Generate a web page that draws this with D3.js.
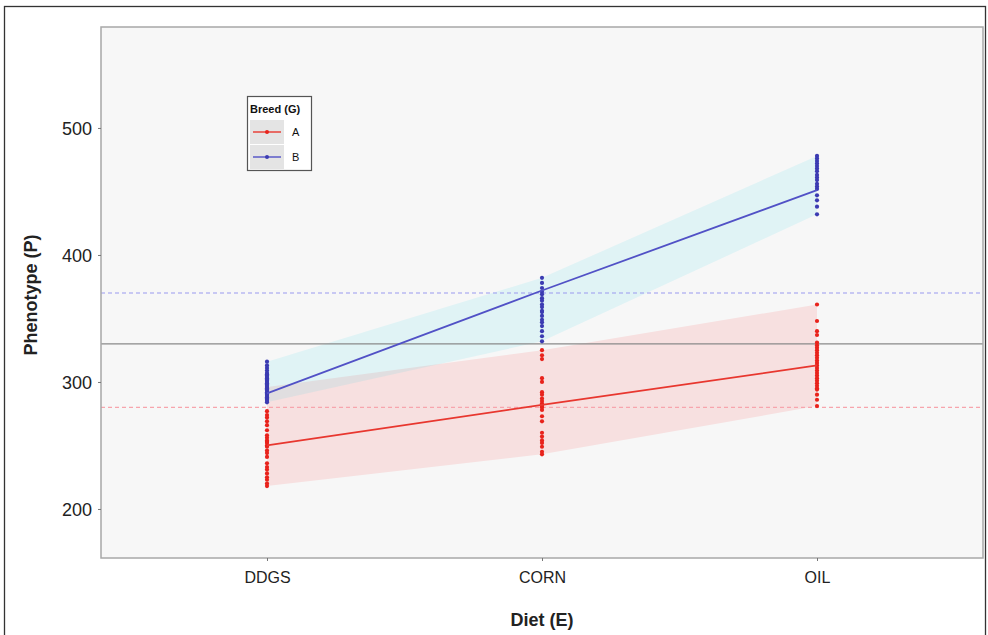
<!DOCTYPE html>
<html>
<head>
<meta charset="utf-8">
<script src="https://cdn.jsdelivr.net/npm/d3@7"></script>
<style>
  body { margin: 0; background: #fff; }
  text { font-family: "Liberation Sans", Arial, sans-serif; }
</style>
</head>
<body>
<div id="wrapper"></div>
<script>
// diet categories and breeds
const diets = ["DDGS", "CORN", "OIL"];
const breeds = ["A", "B"];
const yTicks = [200, 300, 400, 500];

// mean phenotype per diet (lines)
const meanA = [250, 282, 313];
const meanB = [291, 372, 451];

// reference lines: breed means and overall mean
const breedMeanA = 280;
const breedMeanB = 370;
const overallMean = 330;

const pointsA_DDGS = [296, 277, 274, 272, 269, 266, 262, 258, 256, 254, 253, 252, 250, 249, 246, 244, 241, 236, 233, 231, 228, 225, 223, 220, 218];
const pointsA_CORN = [325, 321, 318, 303, 300, 292, 290, 287, 285, 283, 282, 281, 280, 278, 273, 269, 260, 257, 254, 252, 249, 245, 243];
const pointsA_OIL = [361, 348, 340, 337, 331, 329, 327, 325, 323, 321, 319, 317, 315, 313, 311, 309, 307, 305, 303, 301, 299, 297, 295, 294, 290, 286, 281];
const pointsB_DDGS = [316, 313, 311, 309, 307, 306, 305, 304, 303, 302, 301, 300, 299, 298, 297, 296, 295, 294, 293, 292, 291, 290, 289, 288, 287, 286, 285, 284];
const pointsB_CORN = [382, 378, 374, 371, 369, 366, 364, 361, 359, 356, 355, 352, 349, 347, 344, 340, 336, 332];
const pointsB_OIL = [478, 476, 474, 472, 470, 468, 466, 463, 461, 459, 456, 454, 452, 447, 443, 438, 432];

function draw() {
  const width = 988, height = 635;
  const panel = { left: 101, right: 983, top: 27, bottom: 558 };

  const svg = d3.select("#wrapper").append("svg")
    .attr("width", width)
    .attr("height", height);

  // outer frame
  svg.append("rect")
    .attr("x", 4.5).attr("y", 6.5)
    .attr("width", 981).attr("height", 650)
    .attr("fill", "none").attr("stroke", "#333").attr("stroke-width", 1.3);

  const x = d3.scalePoint().domain(diets).range([panel.left, panel.right]).padding(0.6036);
  const y = d3.scaleLinear().domain([161.4, 579.5]).range([panel.bottom, panel.top]);

  svg.append("rect")
    .attr("x", panel.left).attr("y", panel.top)
    .attr("width", panel.right - panel.left).attr("height", panel.bottom - panel.top)
    .attr("fill", "#f7f7f7");

  const groups = [
    { breed: "A", mean: meanA, pts: [pointsA_DDGS, pointsA_CORN, pointsA_OIL], line: "#e8372f", dot: "#e8231c", fill: "#ff0000", dash: "#f7a5ad", ref: breedMeanA },
    { breed: "B", mean: meanB, pts: [pointsB_DDGS, pointsB_CORN, pointsB_OIL], line: "#5151c6", dot: "#3b3bb2", fill: "#00d8e8", dash: "#9a9af0", ref: breedMeanB }
  ];

  // ribbons spanning the observed range
  const area = d3.area()
    .x((d, i) => x(diets[i]))
    .y0(d => y(d3.min(d)))
    .y1(d => y(d3.max(d)));
  groups.forEach(g => {
    svg.append("path")
      .attr("d", area(g.pts))
      .attr("fill", g.fill)
      .attr("fill-opacity", 0.09);
  });

  // reference lines
  groups.forEach(g => {
    svg.append("line")
      .attr("x1", panel.left).attr("x2", panel.right)
      .attr("y1", y(g.ref)).attr("y2", y(g.ref))
      .attr("stroke", g.dash).attr("stroke-width", 1.1)
      .attr("stroke-dasharray", "4,3");
  });
  svg.append("line")
    .attr("x1", panel.left).attr("x2", panel.right)
    .attr("y1", y(overallMean)).attr("y2", y(overallMean))
    .attr("stroke", "#8a8a8a").attr("stroke-width", 1.3);

  // points
  groups.forEach(g => {
    const flat = [];
    g.pts.forEach((arr, i) => arr.forEach(v => flat.push([diets[i], v])));
    svg.append("g")
      .selectAll("circle")
      .data(flat)
      .enter()
      .append("circle")
      .attr("cx", d => x(d[0]))
      .attr("cy", d => y(d[1]))
      .attr("r", 2.1)
      .attr("fill", g.dot);
  });

  // mean lines
  const line = d3.line().x((d, i) => x(diets[i])).y(d => y(d));
  groups.forEach(g => {
    svg.append("path")
      .attr("d", line(g.mean))
      .attr("fill", "none")
      .attr("stroke", g.line)
      .attr("stroke-width", 1.8);
  });

  // panel border
  svg.append("rect")
    .attr("x", panel.left).attr("y", panel.top)
    .attr("width", panel.right - panel.left).attr("height", panel.bottom - panel.top)
    .attr("fill", "none").attr("stroke", "#a8a8a8").attr("stroke-width", 1.5);

  // axes
  const yAxis = svg.append("g")
    .attr("transform", "translate(" + panel.left + ",0)")
    .call(d3.axisLeft(y).tickValues(yTicks).tickSize(3).tickPadding(6));
  yAxis.select(".domain").remove();
  yAxis.selectAll("line").attr("stroke", "#777");
  yAxis.selectAll("text").attr("font-size", 18).attr("fill", "#222").attr("dy", "0.35em");

  const xAxis = svg.append("g")
    .attr("transform", "translate(0," + panel.bottom + ")")
    .call(d3.axisBottom(x).tickSize(3).tickPadding(11));
  xAxis.select(".domain").remove();
  xAxis.selectAll("line").attr("stroke", "#777");
  xAxis.selectAll("text").attr("font-size", 16).attr("fill", "#222");

  svg.append("text")
    .attr("x", 542).attr("y", 626)
    .attr("text-anchor", "middle")
    .attr("font-size", 18).attr("font-weight", "bold").attr("fill", "#222")
    .text("Diet (E)");

  svg.append("text")
    .attr("transform", "translate(37,295) rotate(-90)")
    .attr("text-anchor", "middle")
    .attr("font-size", 18).attr("font-weight", "bold").attr("fill", "#222")
    .text("Phenotype (P)");

  // legend
  const legend = svg.append("g").attr("transform", "translate(247,96)");
  legend.append("rect")
    .attr("x", 0.5).attr("y", 0.5).attr("width", 64).attr("height", 74)
    .attr("fill", "#fff").attr("stroke", "#555").attr("stroke-width", 1.2);
  legend.append("text")
    .attr("x", 3).attr("y", 17)
    .attr("font-size", 11).attr("font-weight", "bold").attr("fill", "#111")
    .text("Breed (G)");
  groups.forEach((g, i) => {
    const ky = 24 + i * 25;
    legend.append("rect")
      .attr("x", 3).attr("y", ky).attr("width", 34).attr("height", 24)
      .attr("fill", "#e4e4e4");
    legend.append("line")
      .attr("x1", 6).attr("x2", 34).attr("y1", ky + 12).attr("y2", ky + 12)
      .attr("stroke", g.line).attr("stroke-width", 1.4);
    legend.append("circle")
      .attr("cx", 20).attr("cy", ky + 12).attr("r", 2)
      .attr("fill", g.dot);
    legend.append("text")
      .attr("x", 45).attr("y", ky + 16)
      .attr("font-size", 11).attr("fill", "#111")
      .text(g.breed);
  });
}
draw();
</script>
</body>
</html>
